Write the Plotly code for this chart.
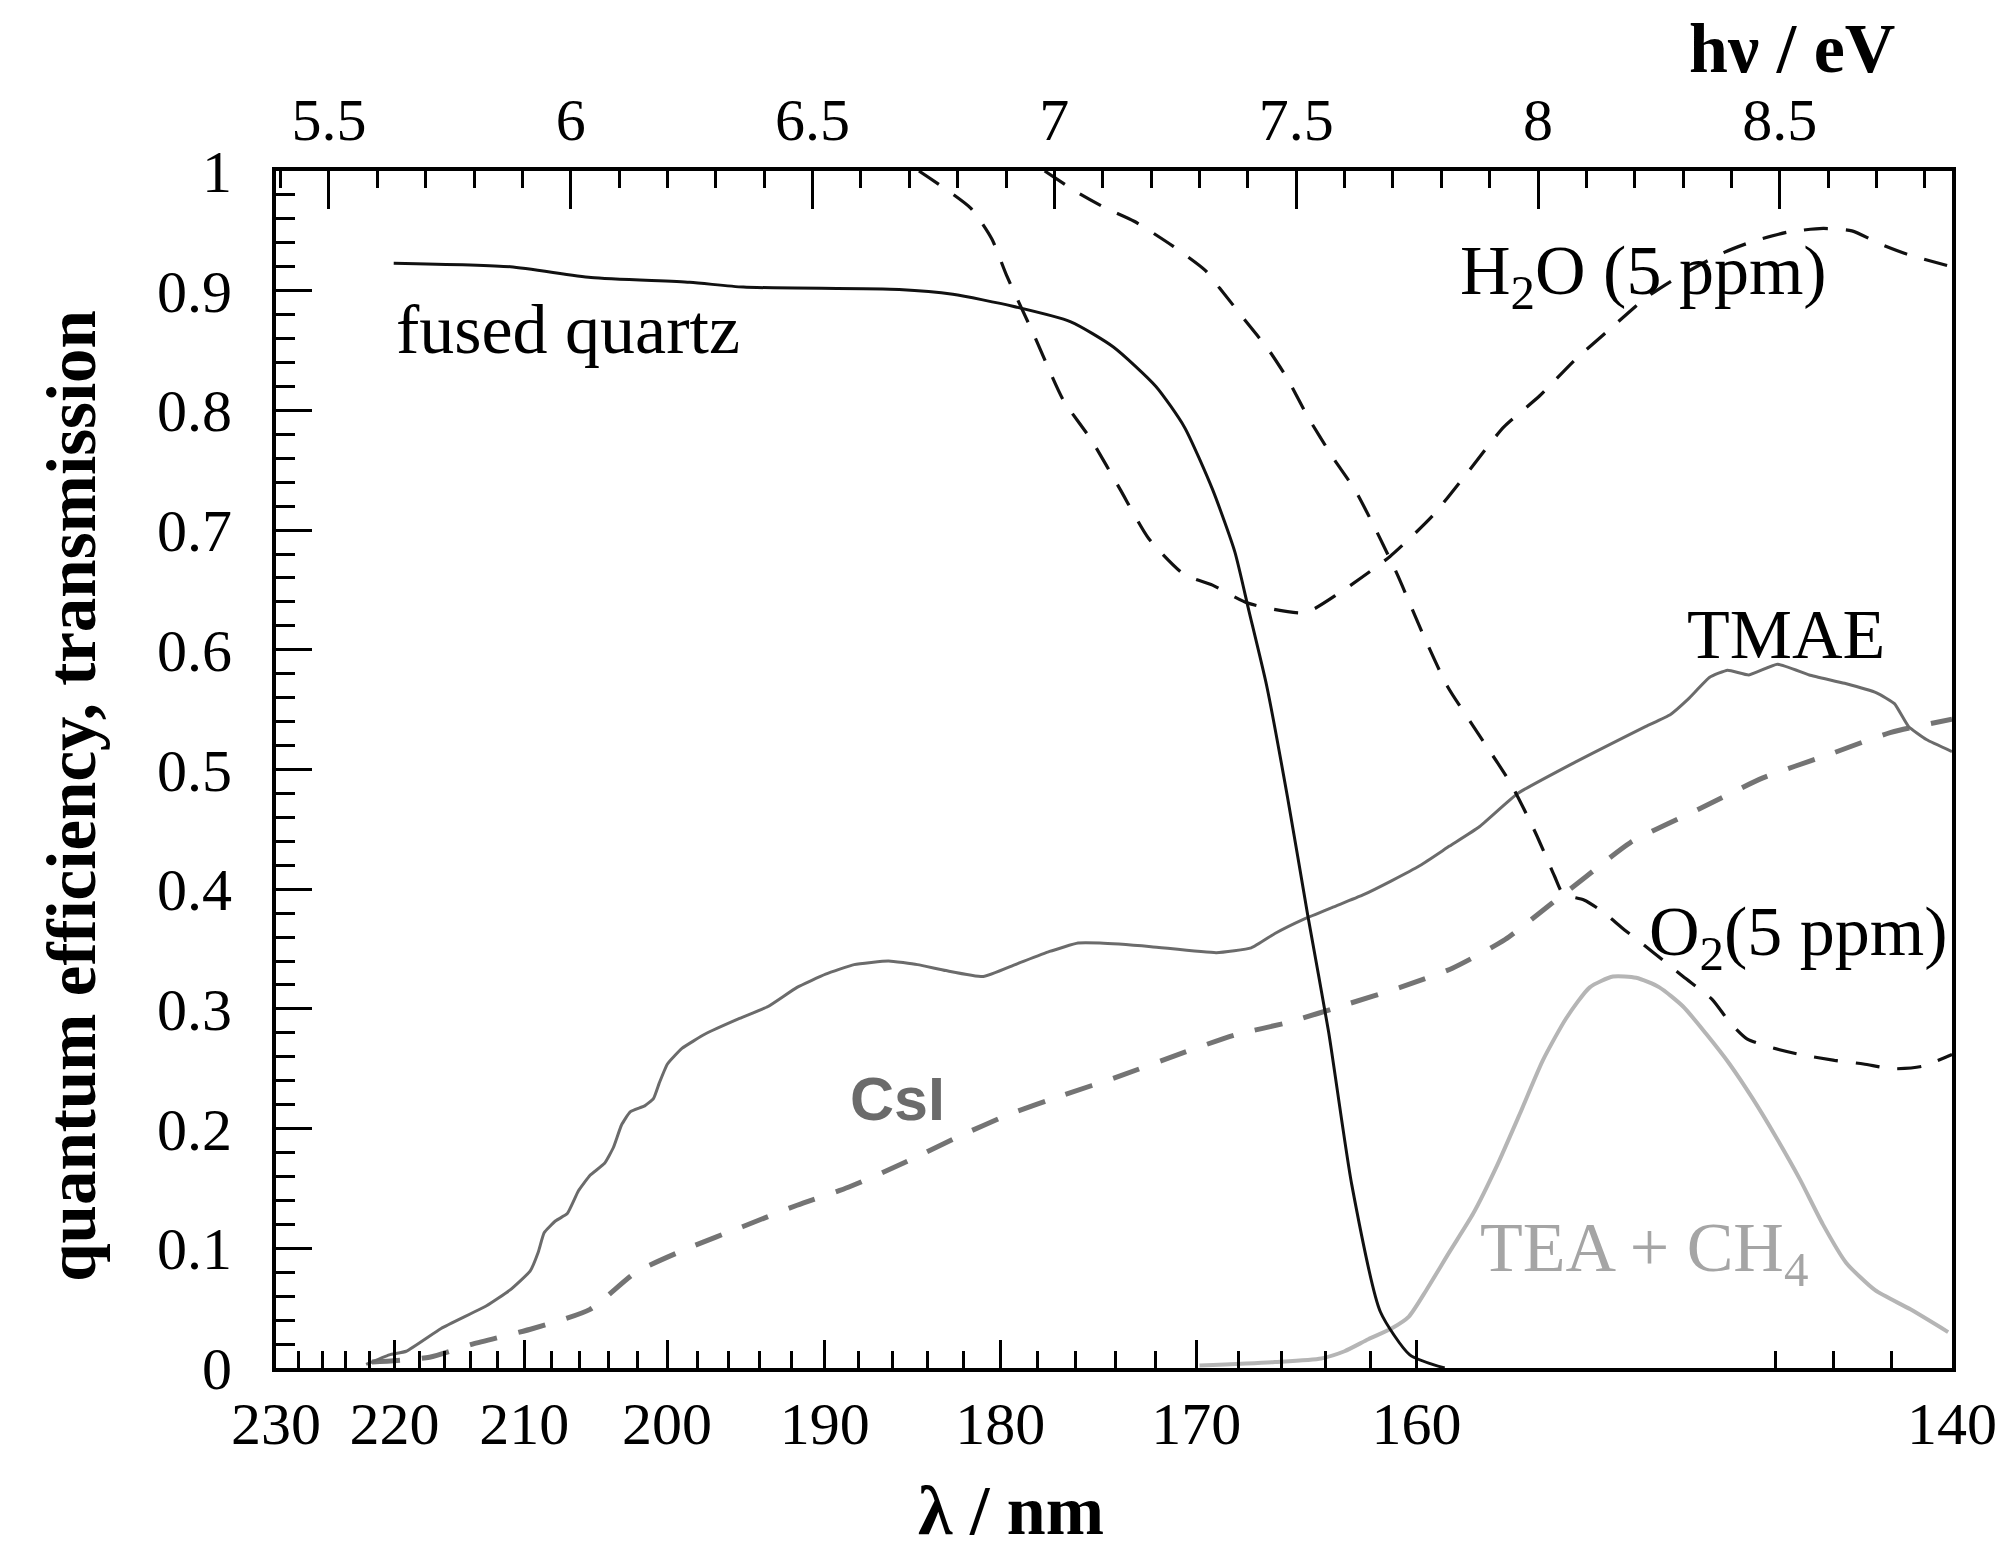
import plotly.graph_objects as go

HC = 1239.84  # eV*nm

# ---------------- data (photon energy in eV, value 0..1) ----------------
quartz_ev = [5.634, 5.875, 6.042, 6.246, 6.357, 6.679, 6.79, 6.914, 7.034, 7.122, 7.210, 7.269,
             7.327, 7.373, 7.402, 7.439, 7.482, 7.524, 7.567, 7.615, 7.674, 7.735, 7.807]
quartz_val = [0.923, 0.920, 0.911, 0.907, 0.903, 0.901, 0.897, 0.887, 0.874, 0.853, 0.820, 0.786,
              0.734, 0.682, 0.633, 0.570, 0.477, 0.378, 0.281, 0.153, 0.047, 0.011, 0.0]

h2o_ev = [6.72, 6.827, 6.871, 6.901, 6.960, 7.018, 7.077, 7.136, 7.195, 7.268, 7.327, 7.400, 7.518,
          7.591, 7.694, 7.782, 7.856, 7.929, 8.003, 8.076, 8.149, 8.223, 8.296, 8.385, 8.443, 8.517,
          8.590, 8.649, 8.708, 8.767, 8.856]
h2o_val = [1.0, 0.969, 0.943, 0.913, 0.861, 0.809, 0.775, 0.734, 0.693, 0.663, 0.654, 0.639, 0.631,
           0.648, 0.678, 0.712, 0.749, 0.786, 0.812, 0.842, 0.868, 0.894, 0.913, 0.932, 0.941, 0.949,
           0.952, 0.950, 0.939, 0.930, 0.920]

o2_ev = [6.98, 7.048, 7.106, 7.165, 7.246, 7.312, 7.342, 7.393, 7.444, 7.481, 7.525, 7.577, 7.621,
         7.665, 7.709, 7.760, 7.812, 7.878, 7.944, 7.995, 8.034, 8.052, 8.095, 8.131, 8.179, 8.239,
         8.300, 8.360, 8.396, 8.432, 8.480, 8.541, 8.613, 8.673, 8.733, 8.794, 8.856]
o2_val = [1.0, 0.982, 0.969, 0.958, 0.937, 0.917, 0.902, 0.876, 0.850, 0.827, 0.794, 0.760, 0.734,
          0.700, 0.663, 0.615, 0.570, 0.529, 0.488, 0.447, 0.411, 0.396, 0.391, 0.382, 0.366, 0.347,
          0.327, 0.308, 0.289, 0.275, 0.268, 0.262, 0.257, 0.254, 0.250, 0.252, 0.262]

qe_solid_ev = [5.577, 5.625, 5.660, 5.732, 5.826, 5.874, 5.916, 5.933, 5.945, 5.969, 5.993, 6.016,
               6.040, 6.070, 6.088, 6.105, 6.123, 6.153, 6.171, 6.183, 6.200, 6.230, 6.278, 6.349,
               6.408, 6.468, 6.527, 6.586, 6.657, 6.717, 6.776, 6.853, 6.919, 6.990, 7.049, 7.094,
               7.200, 7.335, 7.407, 7.456, 7.516, 7.576, 7.637, 7.697, 7.757, 7.817, 7.878, 7.958,
               8.076, 8.149, 8.223, 8.274, 8.311, 8.355, 8.392, 8.436, 8.495, 8.561, 8.634, 8.700,
               8.737, 8.766, 8.803, 8.856]
qe_solid_val = [0.003, 0.011, 0.014, 0.033, 0.052, 0.065, 0.081, 0.097, 0.113, 0.123, 0.129, 0.148,
                0.161, 0.171, 0.184, 0.203, 0.214, 0.219, 0.225, 0.238, 0.254, 0.267, 0.279, 0.292,
                0.302, 0.318, 0.329, 0.337, 0.340, 0.337, 0.332, 0.327, 0.337, 0.348, 0.355, 0.355,
                0.352, 0.347, 0.351, 0.363, 0.375, 0.385, 0.395, 0.407, 0.420, 0.436, 0.452, 0.480,
                0.506, 0.521, 0.536, 0.546, 0.559, 0.577, 0.583, 0.579, 0.588, 0.579, 0.572, 0.564,
                0.555, 0.536, 0.525, 0.515]

qe_dashed_ev = [5.589, 5.708, 5.797, 5.922, 6.040, 6.135, 6.248, 6.355, 6.468, 6.574, 6.687, 6.800,
                6.907, 7.019, 7.136, 7.257, 7.371, 7.486, 7.606, 7.715, 7.823, 7.932, 8.028, 8.101,
                8.191, 8.333, 8.465, 8.598, 8.730, 8.856]
qe_dashed_val = [0.005, 0.009, 0.020, 0.033, 0.049, 0.080, 0.101, 0.118, 0.136, 0.151, 0.171, 0.193,
                 0.212, 0.228, 0.244, 0.262, 0.278, 0.289, 0.304, 0.318, 0.334, 0.358, 0.388, 0.411,
                 0.439, 0.467, 0.493, 0.512, 0.531, 0.542]

tea_ev = [7.30, 7.456, 7.552, 7.600, 7.649, 7.697, 7.733, 7.769, 7.817, 7.866, 7.914, 7.962, 8.010,
          8.058, 8.107, 8.155, 8.203, 8.251, 8.300, 8.348, 8.396, 8.444, 8.492, 8.541, 8.589, 8.637,
          8.697, 8.770, 8.848]
tea_val = [0.002, 0.005, 0.008, 0.014, 0.024, 0.033, 0.043, 0.065, 0.097, 0.129, 0.168, 0.212, 0.257,
           0.292, 0.318, 0.327, 0.326, 0.318, 0.302, 0.279, 0.254, 0.225, 0.193, 0.158, 0.120, 0.088,
           0.065, 0.049, 0.030]

# tick labels
nm_labels = [230, 220, 210, 200, 190, 180, 170, 160, 140]
ev_labels = [5.5, 6.0, 6.5, 7.0, 7.5, 8.0, 8.5]
y_labels = [0, 0.1, 0.2, 0.3, 0.4, 0.5, 0.6, 0.7, 0.8, 0.9, 1.0]


def ev(nm):
    return HC / nm


SERIF = "Liberation Serif"
BLACK = "#111111"

fig = go.Figure()


def add_line(x, y, color, width, dash="solid", smoothing=0.6):
    fig.add_trace(go.Scatter(x=x, y=y, mode="lines",
                             line=dict(color=color, width=width, dash=dash,
                                       shape="spline", smoothing=smoothing),
                             hoverinfo="skip", showlegend=False))


add_line(tea_ev, tea_val, "#b5b5b5", 4)
add_line(qe_dashed_ev, qe_dashed_val, "#747474", 5, dash="28px,22px")
add_line(qe_solid_ev, qe_solid_val, "#6b6b6b", 3, smoothing=0.4)
add_line(h2o_ev, h2o_val, BLACK, 3.2, dash="24px,18px")
add_line(o2_ev, o2_val, BLACK, 3.2, dash="24px,18px")
add_line(quartz_ev, quartz_val, BLACK, 3)

x_range = [ev(230), ev(140)]
minor_nm = [l for l in range(228, 141, -2) if l % 10 and not 147 < l < 159]

tickfont = dict(family=SERIF, size=60, color="black")
axis_common = dict(showline=True, linewidth=4, linecolor="black", showgrid=False, zeroline=False,
                   ticks="inside", tickwidth=3, tickcolor="black", tickfont=tickfont)

fig.update_layout(
    width=2014, height=1550,
    margin=dict(l=276, r=62, t=171, b=182),
    plot_bgcolor="white", paper_bgcolor="white",
    showlegend=False,
    font=dict(family=SERIF, color="black"),
    xaxis=dict(range=x_range, tickmode="array",
               tickvals=[ev(l) for l in nm_labels], ticktext=[str(l) for l in nm_labels],
               ticklen=28, ticklabelstandoff=0,
               minor=dict(tickmode="array", tickvals=[ev(l) for l in minor_nm], ticks="inside",
                          ticklen=17, tickwidth=3, tickcolor="black", showgrid=False),
               **axis_common),
    xaxis2=dict(range=x_range, overlaying="x", side="top", anchor="y", tickmode="array",
                tickvals=ev_labels, ticktext=[f"{v:g}" for v in ev_labels],
                ticklen=38, ticklabelstandoff=3,
                minor=dict(tickmode="linear", tick0=5.5, dtick=0.1, ticks="inside",
                           ticklen=17, tickwidth=3, tickcolor="black", showgrid=False),
                **axis_common),
    yaxis=dict(range=[0, 1], tickmode="array", tickvals=y_labels,
               ticktext=[f"{v:g}" for v in y_labels], ticklen=36, mirror=True,
               ticklabelstandoff=28,
               minor=dict(tickmode="linear", tick0=0, dtick=0.02, ticks="inside",
                          ticklen=19, tickwidth=3, tickcolor="black", showgrid=False),
               **axis_common),
)

# invisible anchor so that the top axis is drawn
fig.add_trace(go.Scatter(x=x_range, y=[None, None], xaxis="x2", yaxis="y", mode="lines",
                         hoverinfo="skip", showlegend=False))


def note(text, x, y, size=70, color="black", family=SERIF, xanchor="left", angle=0):
    fig.add_annotation(text=text, x=x, y=y, xref="paper", yref="paper", showarrow=False,
                       xanchor=xanchor, yanchor="middle", textangle=angle, borderpad=0,
                       font=dict(family=family, size=size, color=color))


note("fused quartz", 0.0709, 0.868)
note("H<sub>2</sub>O (5 ppm)", 0.7058, 0.912)
note("TMAE", 0.901, 0.613, xanchor="center")
note("<b>CsI</b>", 0.371, 0.225, size=61, color="#6b6b6b", family="Liberation Sans", xanchor="center")
note("O<sub>2</sub>(5 ppm)", 0.8185, 0.360)
note("TEA + CH<sub>4</sub>", 0.7177, 0.096, color="#a5a5a5")

note("<b>hν / eV</b>", 0.9045, 1.102, size=70, xanchor="center")
note("<b>λ / nm</b>", 0.4386, -0.119, size=70, xanchor="center")
note("<b>quantum efficiency, transmission</b>", -0.1217, 0.478, size=69, xanchor="center", angle=-90)

fig.write_html("out.html")
